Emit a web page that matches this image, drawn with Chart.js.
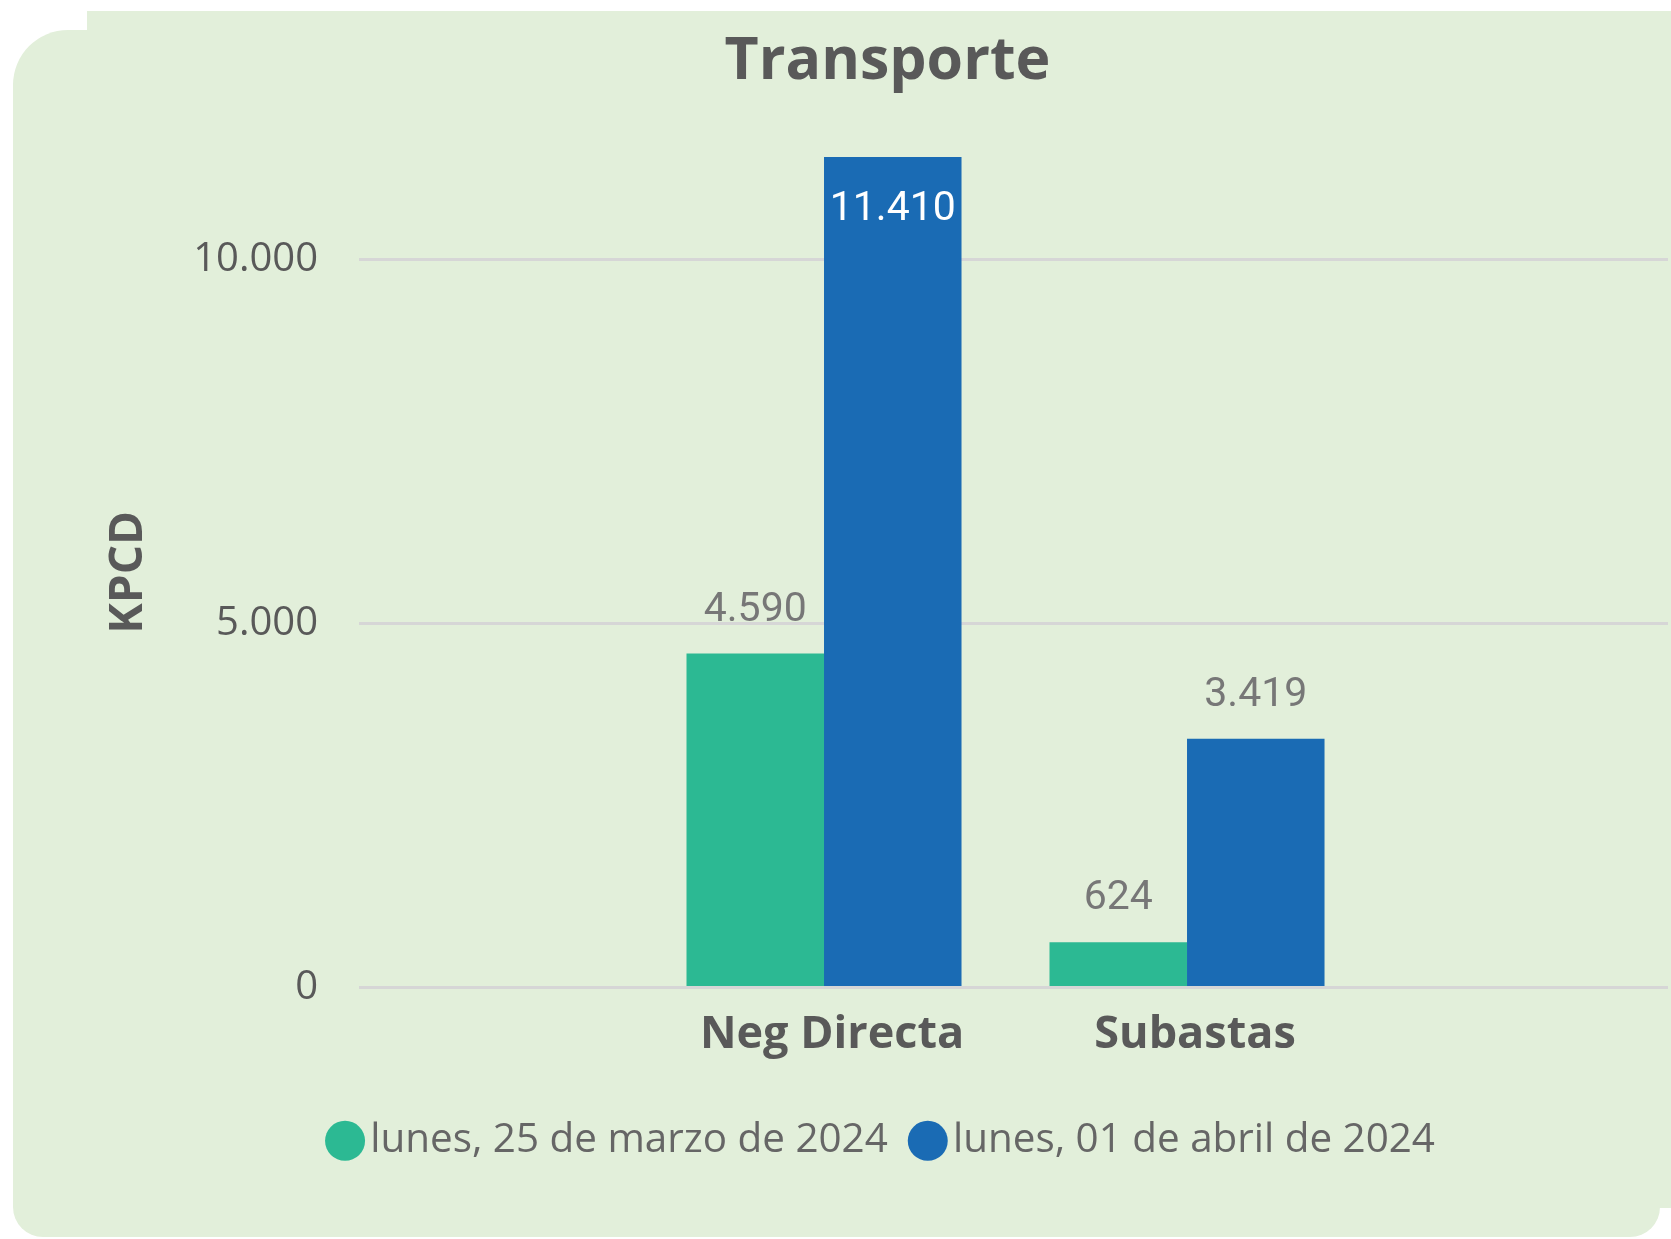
<!DOCTYPE html>
<html>
<head>
<meta charset="utf-8">
<script src="https://cdn.jsdelivr.net/npm/chart.js@4.4.1/dist/chart.umd.min.js"></script>
<style>
  html, body { margin: 0; padding: 0; background: #ffffff; width: 1671px; height: 1239px; overflow: hidden; }
  #bg1 { position: absolute; left: 87px; top: 11px; width: 1584px; height: 1197px; background: #E2EFDA; }
  #bg2 { position: absolute; left: 13px; top: 30px; width: 1647px; height: 1207px; background: #E2EFDA; border-radius: 55px 0 30px 30px; }
  #wrap { position: absolute; left: 0; top: 0; width: 1671px; height: 1239px; }
</style>
</head>
<body>
<div id="bg1"></div>
<div id="bg2"></div>
<div id="wrap"><canvas id="c" width="1671" height="1239"></canvas></div>
<script>
const chartTitle = 'Transporte';
const yAxisTitle = 'KPCD';
const categories = ['Neg Directa', 'Subastas'];
const seriesNames = ['lunes, 25 de marzo de 2024', 'lunes, 01 de abril de 2024'];
const seriesMarzo = [4590, 624];
const seriesAbril = [11410, 3419];
const yTicks = [0, 5000, 10000];

const GREEN = '#2CB993';
const BLUE = '#1A6BB4';
const DARK = '#595959';

function fmt(v) {
  return String(Math.round(v)).replace(/\B(?=(\d{3})+(?!\d))/g, '.');
}

const valueLabels = {
  id: 'valueLabels',
  afterDatasetsDraw(chart) {
    const { ctx, chartArea } = chart;
    ctx.save();
    ctx.font = '41px Roboto';
    ctx.textAlign = 'center';
    ctx.textBaseline = 'middle';
    chart.data.datasets.forEach((ds, di) => {
      const meta = chart.getDatasetMeta(di);
      meta.data.forEach((bar, i) => {
        const v = ds.data[i].y;
        let y = bar.y - 43;
        let color = '#777777';
        if (y - 25 < chartArea.top) { y = bar.y + 53; color = '#ffffff'; }
        ctx.fillStyle = color;
        ctx.fillText(fmt(v), bar.x, y);
      });
    });
    ctx.restore();
  }
};

function draw() {
  const ctx = document.getElementById('c').getContext('2d');
  new Chart(ctx, {
    type: 'bar',
    data: {
      datasets: [
        {
          label: seriesNames[0],
          data: seriesMarzo.map((v, i) => ({ x: i + 1, y: v })),
          backgroundColor: GREEN,
          categoryPercentage: 0.7576,
          barPercentage: 1.0
        },
        {
          label: seriesNames[1],
          data: seriesAbril.map((v, i) => ({ x: i + 1, y: v })),
          backgroundColor: BLUE,
          categoryPercentage: 0.7576,
          barPercentage: 1.0
        }
      ]
    },
    options: {
      responsive: false,
      animation: false,
      devicePixelRatio: 1,
      layout: { padding: { left: 107, right: 3, top: 0, bottom: 68 } },
      plugins: {
        title: {
          display: true,
          text: chartTitle,
          color: DARK,
          font: { family: 'Open Sans', size: 59, weight: 'bold', lineHeight: 1.2 },
          padding: { top: 27, bottom: 59.2 }
        },
        legend: {
          position: 'bottom',
          labels: {
            usePointStyle: true,
            pointStyle: 'circle',
            boxWidth: 10,
            boxHeight: 28.28,
            padding: 35,
            color: '#666666',
            font: { family: 'Open Sans', size: 40.4 }
          }
        },
        tooltip: { enabled: false }
      },
      scales: {
        x: {
          type: 'linear',
          offset: false,
          min: -0.281,
          max: 3.325,
          grid: { display: false },
          border: { display: false },
          afterBuildTicks: (s) => { s.ticks = categories.map((c, i) => ({ value: i + 1 })); },
          afterFit: (s) => { s.height = 98; },
          ticks: {
            autoSkip: false,
            maxRotation: 0,
            padding: 12.5,
            labelOffset: 8,
            color: DARK,
            font: { family: 'Open Sans', size: 45, weight: 'bold', lineHeight: 1.2 },
            callback: (v) => categories[v - 1] ?? ''
          }
        },
        y: {
          min: 0,
          max: Math.max(...seriesMarzo, ...seriesAbril),
          afterBuildTicks: (s) => { s.ticks = yTicks.map(v => ({ value: v })); },
          afterFit: (s) => { s.width = 252; },
          grid: { color: '#D6D6D6', lineWidth: 3, drawTicks: false },
          border: { display: false },
          ticks: {
            padding: 41,
            color: DARK,
            font: { family: 'Open Sans', size: 40 },
            callback: (v) => fmt(v)
          },
          title: {
            display: true,
            text: yAxisTitle,
            color: DARK,
            font: { family: 'Open Sans', size: 46, weight: 'bold', lineHeight: 0.85 },
            padding: { top: 2, bottom: 0 }
          }
        }
      }
    },
    plugins: [valueLabels]
  });
}

const fontLoads = [
  'bold 59px "Open Sans"', '40px "Open Sans"', 'bold 45px "Open Sans"', '41px Roboto'
].map(f => document.fonts.load(f).catch(() => null));
Promise.all(fontLoads).then(draw, draw);
</script>
</body>
</html>
